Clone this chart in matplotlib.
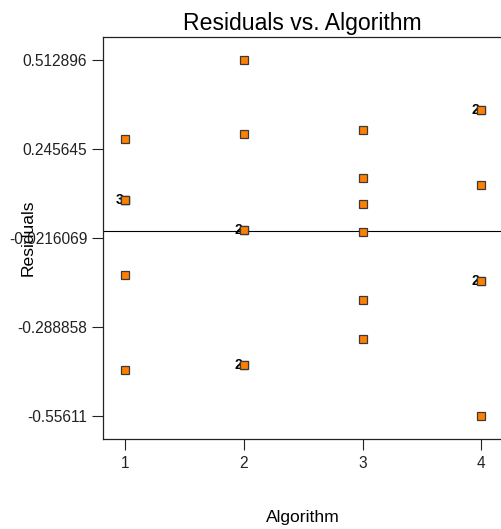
#!/usr/bin/env python3
from collections import Counter

import matplotlib
matplotlib.use("Agg")
import matplotlib.pyplot as plt

plt.rcParams["font.family"] = ["Liberation Sans", "DejaVu Sans"]

# residuals, grouped by algorithm
algorithm = [1] * 6 + [2] * 6 + [3] * 6 + [4] * 6
residuals = [
    0.0920, 0.0920, 0.0920, 0.2763, -0.1325, -0.4190,
    0.512896, 0.2895, 0.0028, 0.0028, -0.4030, -0.4030,
    0.3025, 0.1591, 0.0791, -0.0051, -0.2086, -0.3258,
    0.3617, 0.3617, 0.1371, -0.1505, -0.1505, -0.55611,
]

x_ticks = [1, 2, 3, 4]
y_tick_labels = ["0.512896", "0.245645", "-0.0216069", "-0.288858", "-0.55611"]
y_ticks = [float(s) for s in y_tick_labels]


def main():
    fig = plt.figure(figsize=(5.02, 5.29), dpi=100)
    ax = fig.add_axes([103 / 502, 1 - 439 / 529, 1 - 103 / 502, (439 - 37) / 529])

    ax.axhline(0.0, color="black", lw=0.8, zorder=1)
    ax.plot(algorithm, residuals, "s", ms=6.3, mfc="#ff8000", mec="#3a3a3a",
            mew=0.9, zorder=3)

    # repeated points get a count to the left of the marker
    counts = Counter(zip(algorithm, residuals))
    for (xv, yv), n in counts.items():
        if n > 1:
            ax.annotate(str(n), (xv, yv), xytext=(-1.5, 0), textcoords="offset points",
                        ha="right", va="center", fontsize=10, fontweight="bold",
                        zorder=2)

    ax.set_xlim(0.812, 4.174)
    ax.set_ylim(-0.626, 0.582)
    ax.set_xticks(x_ticks)
    ax.set_yticks(y_ticks)
    ax.set_yticklabels(y_tick_labels)
    ax.tick_params(length=8, width=0.8, labelsize=11.2, color="#222222",
                   labelcolor="#222222")
    ax.tick_params(axis="y", pad=3.4)
    ax.tick_params(axis="x", pad=4)

    ax.spines["right"].set_visible(False)
    for s in ("left", "top", "bottom"):
        ax.spines[s].set_linewidth(0.9)
        ax.spines[s].set_color("#222222")

    ax.set_title("Residuals vs. Algorithm", fontsize=16.6, pad=5)
    ax.set_xlabel("Algorithm", fontsize=12.6, labelpad=28)
    ax.set_ylabel("Residuals", fontsize=12.6)
    ax.yaxis.set_label_coords(-67 / 399, 0.5)

    fig.savefig("out.png", dpi=100)
    plt.close(fig)


if __name__ == "__main__":
    main()
